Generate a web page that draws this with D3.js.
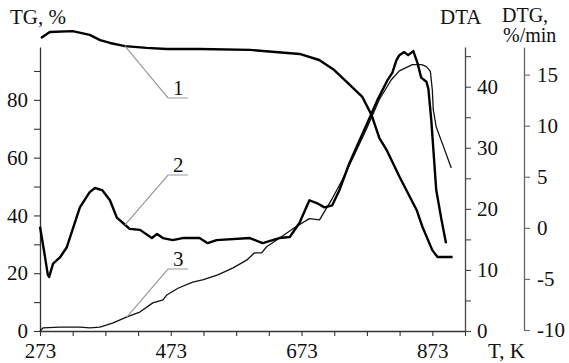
<!DOCTYPE html>
<html>
<head>
<meta charset="utf-8">
<script src="https://cdn.jsdelivr.net/npm/d3@7"></script>
<style>
  body { margin: 0; background: #fff; }
  svg { display: block; }
  text { font-family: "Liberation Serif", "Times New Roman", serif; fill: #111; }
</style>
</head>
<body>
<svg id="chart" width="569" height="363"></svg>
<script>
// temperature (K), value pairs
const tgPoints = [
  [274.5, 101.4], [288, 103.5], [323, 103.8], [349, 102.5], [365, 100.7],
  [380, 99.7], [403, 98.6], [436, 98.0], [467, 97.6], [517, 97.6],
  [594, 97.3], [670, 95.9], [700, 93.8], [723, 90.3], [742, 86.2],
  [766, 81.0], [780, 74.8], [792, 66.8], [803, 62.7], [823, 53.3],
  [849, 41.9], [858, 36.0], [873, 28.0], [881, 25.6], [904, 25.6]
];
const dtgPoints = [
  [273, 0.1], [279, -2.2], [285, -4.6], [287, -4.8], [293, -3.5],
  [303.5, -2.9], [314, -1.9], [334, 2.0], [349, 3.5], [357, 3.9],
  [368, 3.7], [380, 2.7], [390.5, 1.0], [403, 0.3], [410, -0.1],
  [426, -0.2], [444, -1.0], [452, -0.6], [461, -1.0], [476, -1.2],
  [491, -1.0], [517, -1.0], [529.5, -1.5], [543, -1.2], [594, -1.0],
  [613.5, -1.5], [639, -1.0], [655, -0.9], [670, 0.5], [685, 2.7],
  [697, 2.4], [708, 2.0], [720, 2.2], [731, 3.7], [746, 6.3],
  [758.5, 8.1], [774, 10.3], [789, 12.5], [804, 14.4], [812, 15.2],
  [818, 16.4], [822.6, 16.9], [830, 17.2], [836, 16.9], [844, 17.3],
  [850, 16.2], [856, 14.7], [864, 14.3], [867, 13.6], [871.5, 10.5],
  [879, 3.7], [887, 0.8], [894, -1.5]
];
const dtaPoints = [
  [273, 0], [277.6, 0.5], [303.5, 0.65], [334, 0.65], [349, 0.5],
  [364.6, 0.65], [384, 1.3], [406, 2.3], [425.7, 3.1], [445.5, 4.6],
  [461, 5.1], [467, 5.9], [484, 7.0], [506.6, 8.0], [523, 8.4],
  [545, 9.2], [567.6, 10.3], [589, 11.6], [601, 12.8], [612, 12.8],
  [619.6, 13.8], [639, 15.2], [662, 16.9], [685, 18.4], [700.5, 18.2],
  [719, 21.5], [735.6, 24.8], [754, 28.9], [772, 33.0], [792, 37.9],
  [810, 41.1], [822.6, 42.6], [842.5, 43.6], [856.8, 43.6], [864, 43.3],
  [870, 42.5], [873, 39.5], [874.5, 36.2], [879, 33.4], [888, 30.8],
  [902, 26.7]
];

const tempTicks = d3.range(273, 924, 50);
const tempLabels = [273, 473, 673, 873];
const tgTicks = d3.range(0, 91, 10);
const dtaTicks = d3.range(0, 46, 5);
const dtgTicks = d3.range(-10, 16, 5);

const svg = d3.select("#chart");
const fontSize = 21;

const x = d3.scaleLinear().domain([273, 923]).range([40, 465]);
const yTG = d3.scaleLinear().domain([0, 98.3]).range([331, 47]);
const yDTA = d3.scaleLinear().domain([0, 46.5]).range([331, 47]);
const yDTG = d3.scaleLinear().domain([-10, 17.7]).range([330, 47]);

function styleAxis(g, color) {
  g.select(".domain").attr("stroke", color).attr("stroke-width", 1.3);
  g.selectAll(".tick line").attr("stroke", color).attr("stroke-width", 1.1);
  g.selectAll("text")
    .style("font-family", '"Liberation Serif", serif')
    .style("font-size", fontSize + "px")
    .attr("fill", "#111");
}

// bottom axis
const gx = svg.append("g")
  .attr("transform", `translate(0,${yTG(0)})`)
  .call(d3.axisBottom(x).tickValues(tempTicks)
    .tickFormat((d) => (tempLabels.includes(d) ? d : ""))
    .tickSize(5).tickSizeOuter(0));
gx.selectAll("text").attr("y", 27).attr("dy", 0);
styleAxis(gx, "#333");

// left TG axis
const gl = svg.append("g")
  .attr("transform", `translate(${x(273)},0)`)
  .call(d3.axisLeft(yTG).tickValues(tgTicks)
    .tickFormat((d) => (d % 20 === 0 ? d : ""))
    .tickSize(6).tickPadding(6).tickSizeOuter(0));
styleAxis(gl, "#333");

// DTA axis
const gd = svg.append("g")
  .attr("transform", `translate(${x(923)},0)`)
  .call(d3.axisRight(yDTA).tickValues(dtaTicks)
    .tickFormat((d) => (d % 10 === 0 ? d : ""))
    .tickSize(6).tickPadding(6).tickSizeOuter(0));
styleAxis(gd, "#444");

// DTG axis
const gg = svg.append("g")
  .attr("transform", "translate(524,0)")
  .call(d3.axisRight(yDTG).tickValues(dtgTicks)
    .tickFormat((d) => String(d))
    .tickSize(6).tickPadding(7).tickSizeOuter(0));
styleAxis(gg, "#666");

// curves
const line = (ys) => d3.line().x((d) => x(d[0])).y((d) => ys(d[1]));

svg.append("path").datum(dtaPoints)
  .attr("fill", "none").attr("stroke", "#111").attr("stroke-width", 1.3)
  .attr("stroke-linejoin", "round").attr("d", line(yDTA));
svg.append("path").datum(dtgPoints)
  .attr("fill", "none").attr("stroke", "#000").attr("stroke-width", 2.4)
  .attr("stroke-linejoin", "round").attr("d", line(yDTG));
svg.append("path").datum(tgPoints)
  .attr("fill", "none").attr("stroke", "#000").attr("stroke-width", 2.4)
  .attr("stroke-linejoin", "round").attr("d", line(yTG));

// curve numbers with leader lines
const notes = [
  { label: "1", t: 403, v: 98.6, scale: yTG, cy: 98 },
  { label: "2", t: 403, v: 0.3, scale: yDTG, cy: 175 },
  { label: "3", t: 406, v: 2.3, scale: yDTA, cy: 269 }
];
notes.forEach((n) => {
  svg.append("polyline")
    .attr("points", `${x(n.t)},${n.scale(n.v)} 168,${n.cy} 188,${n.cy}`)
    .attr("fill", "none").attr("stroke", "#999").attr("stroke-width", 1.2);
  svg.append("text").attr("x", 173).attr("y", n.cy - 3)
    .style("font-size", fontSize + "px").text(n.label);
});

// titles
const titles = [
  { t: "TG, %", x: 10, y: 24, s: fontSize },
  { t: "DTA", x: 440, y: 24, s: fontSize },
  { t: "DTG,", x: 502, y: 22, s: 20 },
  { t: "%/min", x: 503, y: 42, s: 20 },
  { t: "T, K", x: 488, y: 358, s: fontSize }
];
titles.forEach((d) => {
  svg.append("text").attr("x", d.x).attr("y", d.y)
    .style("font-size", d.s + "px").text(d.t);
});
</script>
</body>
</html>
